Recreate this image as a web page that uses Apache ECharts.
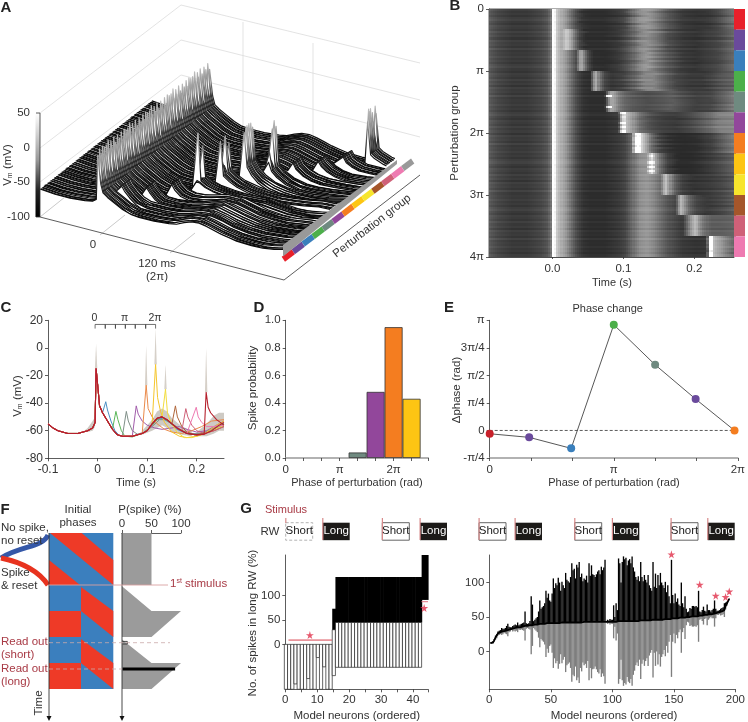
<!DOCTYPE html>
<html><head><meta charset="utf-8">
<style>html,body{margin:0;padding:0;background:#fff}#c{width:748px;height:722px}</style>
<script src="https://cdn.jsdelivr.net/npm/echarts@6/dist/echarts.min.js"></script>
</head><body><div id="c"></div>
<script>
// ---------- DATA ----------
const groupColors = ['#e8202a','#6a4a9c','#3a7fbc','#4caf4a','#6f8a80','#92479b','#f47d20','#fdc513','#f7e52c','#a5562a','#cf6078','#ee7ab1'];
const stripEndColor = '#999999';
const lineColors  = ['#b5202c','#4a8fc4','#5cb85a','#7f8f88','#a25cab','#ea8a4a','#f5c62c','#f2dd3c','#b0663a','#cf6078','#ee7ab1','#b5202c'];
// mean membrane potential, [s, mV]
const baseTrace = [[-0.1,-55],[-0.09,-58],[-0.08,-60],[-0.06,-62],[-0.04,-62],[-0.02,-60],[-0.01,-58],[-0.005,-54],[-0.003,-15],[0.001,-30],[0.004,-42],[0.01,-47],[0.02,-53],[0.03,-59],[0.04,-63],[0.05,-64],[0.07,-64],[0.09,-62],[0.1,-60],[0.11,-55],[0.12,-51],[0.13,-50],[0.14,-52],[0.15,-55],[0.16,-58],[0.17,-60],[0.18,-62],[0.2,-63],[0.215,-62.5],[0.23,-60],[0.245,-56],[0.255,-54]];
const perturbTimes = [0,0.0165,0.037,0.058,0.078,0.098,0.117,0.137,0.157,0.178,0.199,0.219];
const postTraces = [
 [],
 [[0.0165,-39],[0.02,-45],[0.027,-53],[0.035,-60],[0.045,-64],[0.07,-64],[0.09,-62],[0.105,-58],[0.12,-52],[0.13,-51],[0.145,-54],[0.16,-59],[0.18,-62],[0.2,-63],[0.23,-60],[0.255,-55]],
 [[0.037,-46],[0.041,-52],[0.048,-60],[0.055,-64],[0.07,-64.5],[0.09,-62],[0.105,-58],[0.12,-52],[0.13,-50],[0.145,-54],[0.16,-58],[0.18,-62],[0.2,-63],[0.23,-60],[0.255,-55]],
 [[0.058,-46],[0.062,-53],[0.07,-60],[0.08,-62.5],[0.095,-61],[0.11,-57],[0.125,-52],[0.14,-52],[0.155,-56],[0.17,-60],[0.19,-62],[0.21,-62],[0.235,-58],[0.255,-56]],
 [[0.078,-42],[0.082,-48],[0.09,-53],[0.1,-56],[0.115,-58],[0.13,-59],[0.15,-58],[0.165,-57],[0.18,-59],[0.2,-61],[0.22,-60],[0.24,-56],[0.255,-53]],
 [[0.098,-27],[0.102,-44],[0.11,-50],[0.12,-55],[0.135,-59],[0.15,-61],[0.17,-62],[0.19,-60],[0.21,-57],[0.23,-53],[0.255,-52]],
 [[0.117,-12],[0.121,-36],[0.127,-46],[0.135,-54],[0.15,-61],[0.165,-64],[0.18,-65],[0.2,-64],[0.22,-61],[0.24,-56],[0.255,-53]],
 [[0.137,-30],[0.141,-47],[0.148,-54],[0.16,-61],[0.175,-65],[0.19,-65],[0.21,-63],[0.23,-60],[0.255,-56]],
 [[0.157,-42],[0.161,-50],[0.17,-57],[0.18,-61],[0.195,-63],[0.215,-62],[0.235,-60],[0.255,-57]],
 [[0.178,-44],[0.182,-50],[0.19,-56],[0.2,-60],[0.215,-62],[0.235,-60],[0.255,-57]],
 [[0.199,-43],[0.203,-50],[0.21,-54],[0.22,-57],[0.235,-57],[0.255,-56]],
 [[0.219,-32],[0.223,-43],[0.228,-47],[0.24,-52],[0.255,-56]]
];
// single-trial readings used by panels A and B
const spikeTops  = [12,-14,18,-4,8,20,-22,14,2,16,-10,22,6,-18,15,10,-6,19,-26,11,4,17,-12];
const rowOffsets = [1.4,-0.8,0.3,-1.6,0.9,2.1,-0.4,-1.9,1.1,0.2,-1.2,1.8,-0.6,0.7,-2.2,1.5,-0.2,0.5,-1.4,2.4,-1,0.1,-0.5];
const rowShifts  = [0.002,-0.003,0.001,0.004,-0.002,0,-0.004,0.003,-0.001,0.002,-0.003,0.005,0,-0.002];
const trialSpikes = [[],[],[],[],[0,0,1,0,0,0,0,1,0,0],[1,0,1,0,0,1,0,1,0,1],[1,1,1,1,1,1,0,1,1,1],[0,1,0,0,1,0,1,0,1,0],[],[],[],[1,1,1,1,1,1,1,1,1,1]];
const grayStops = [[-66,40],[-64,45],[-60,70],[-55,108],[-50,153],[-45,181],[-35,224],[-25,255]];
// panel C shading: [s, lower, upper]
const cBands = [
 [[-0.03,-61,-61],[-0.02,-61,-58],[-0.01,-60,-53],[-0.005,-57,-50]],
 [[0.09,-63,-60],[0.11,-60,-52],[0.12,-58,-46],[0.13,-56,-44],[0.14,-58,-46],[0.15,-61,-51],[0.17,-63,-57],[0.19,-64,-60]],
 [[0.2,-64,-61],[0.22,-64,-55],[0.235,-62,-49],[0.245,-60,-47],[0.255,-60,-47]]
];
const cSpikeCaps = [[-0.003,-15,3],[0.098,-27,2],[0.117,-12,14],[0.137,-30,-12],[0.219,-32,0]];
const cPhaseBracket = [[-0.005,14],[-0.005,17],[0.0155,17],[0.0155,14],[0.0155,17],[0.036,17],[0.036,14],[0.036,17],[0.056,17],[0.056,14],[0.056,17],[0.076,17],[0.076,14],[0.076,17],[0.097,17],[0.097,14],[0.097,17],[0.117,17],[0.117,14]];
// panel D
const spikeProbPhase = [4,5,6,7];
const spikeProb = [0.04,0.48,0.95,0.43];
const spikeProbColors = ['#6f8a80','#92479b','#f47d20','#fdc513'];
// panel E (x in units of pi/3, y in units of pi/4)
const phaseX = [0,0.955,1.97,3,4,4.98,5.92];
const phaseDelta = [-0.12,-0.25,-0.65,3.84,2.385,1.14,0];
const phaseColors = ['#c8202a','#6a4a9c','#3a7fbc','#4caf4a','#6f8a80','#6a4a9c','#f47d20'];
// panel F (percent, time unit)
const pSpikeShapes = [
 [[0,0],[50,0],[50,2],[0,2]],
 [[0,2.05],[50,3],[100,3],[50,4],[0,4]],
 [[0,4.1],[50,5],[100,5],[50,6],[0,6]]
];
// panel G, 45 neurons
const g1Base = [0,0,0,0,0,0,0,0,0,0,0,0,0,0,0,30,45,45,45,45,45,45,45,45,45,45,45,45,45,45,45,45,45,45,45,45,45,45,45,45,45,45,45,91,91];
const g1Top  = [0,0,0,0,0,0,0,0,0,0,0,0,0,0,0,73,138,138,138,138,138,138,138,138,138,138,138,138,138,138,138,138,138,138,138,138,138,138,138,138,138,138,138,183,183];
const g1Bot  = [-92,-92,-92,-81,-92,-92,-92,-70,-92,-92,-27,-92,-46,-92,-92,-64,-47,-47,-47,-47,-47,-47,-47,-47,-47,-47,-47,-47,-47,-47,-47,-47,-47,-47,-47,-47,-47,-47,-47,-47,-47,-47,-47,91,91];
// panel G, 195 neurons
const g2Base = [12,12,13,16,20,22,26,27,28,29,29,30,30,31,31,32,32,33,33,34,34,34,35,35,35,36,36,36,37,37,37,37,38,38,38,39,39,39,39,39,40,40,40,40,40,40,41,41,41,41,41,41,41,41,41,41,41,42,42,42,42,42,42,42,42,42,42,42,42,42,42,42,42,42,42,43,43,43,43,43,43,43,43,43,43,43,43,43,43,43,43,43,43,43,43,43,43,43,43,43,43,43,43,43,44,44,44,44,44,44,44,44,44,44,44,44,44,44,44,44,44,45,45,45,45,45,45,45,45,45,45,45,46,46,46,46,46,46,46,46,46,47,47,47,47,47,47,48,48,48,48,48,48,48,49,49,49,49,49,50,50,50,50,50,51,51,51,51,51,51,52,52,52,52,53,53,53,53,54,54,54,55,55,55,56,56,57,57,58,59,60,66,69,73,76];
const g2Top  = [13,13,15,18,23,25,29,30,31,34,33,33,34,37,40,36,35,35,37,38,39,38,42,38,39,40,41,42,58,41,40,41,44,80,68,44,46,48,50,58,74,62,64,66,70,88,78,84,74,72,84,106,92,99,96,107,100,88,101,96,92,114,104,102,100,108,128,118,120,106,126,122,130,108,113,102,106,104,110,100,128,110,125,112,111,108,112,116,118,112,123,118,122,133,44,46,45,47,46,46,67,50,70,60,135,128,100,130,138,134,136,125,132,134,128,138,122,116,108,104,109,102,130,108,102,111,104,100,111,96,92,88,130,94,113,92,111,96,114,100,96,92,101,86,96,80,70,133,82,70,84,72,77,68,66,100,70,64,80,62,57,58,63,62,66,66,65,66,64,88,58,57,60,65,59,58,68,60,60,58,60,62,74,62,59,59,60,62,63,64,70,71,72,74,77];
const g1Stars = [[7.7,19],[43.5,74.5]];
const g2Stars = [[148,141],[171,97],[184,81],[192,79],[195,87]];

// ---------- BUILD ----------
const F = '"Liberation Sans",Arial,sans-serif', TC = '#333';
const groupTraces = postTraces.map((post,i)=> i===0 ? baseTrace.slice() : baseTrace.filter(p=>p[0]<perturbTimes[i]-0.002).concat(post));
function vAt(tr,t){
  if(t<=tr[0][0]) return tr[0][1];
  for(let i=1;i<tr.length;i++) if(t<=tr[i][0]){const a=tr[i-1],b=tr[i];return a[1]+(b[1]-a[1])*(t-a[0])/(b[0]-a[0]);}
  return tr[tr.length-1][1];
}
const N_ROWS=120;
function trial(r){
  const g=Math.floor(r/10),k=r%10,off=rowOffsets[r%rowOffsets.length],dt=rowShifts[r%rowShifts.length],tp=perturbTimes[g];
  return groupTraces[g].map(p=>{
    let t=p[0],v=p[1]+off;
    if(Math.abs(t+0.003)<1e-6) v=spikeTops[r%spikeTops.length];
    else if(g>0&&Math.abs(t-tp)<1e-6){const s=trialSpikes[g][k]; if(trialSpikes[g].length) v= s? spikeTops[(r*3)%spikeTops.length] : p[1]-6;}
    else if(t>tp+0.025&&t>0.03) t=t+dt;
    return [t,v];
  });
}
const trials=[];for(let r=0;r<N_ROWS;r++)trials.push(trial(r));

// panel A projection (ms, trial index, mV) -> page scale
const projA=(t,r,v)=>{const px=100+750*t;return [px+r*0.94, 232.5+0.258*(px-100)-r*0.7417-(v+100)*0.693];};
function traceA(r){
  const damp=0.7*rowOffsets[r%rowOffsets.length];
  const tr=trials[r].filter(p=>p[0]>=-0.08&&p[0]<=0.244);
  tr.unshift([-0.08,vAt(trials[r],-0.08)]);tr.push([0.244,vAt(trials[r],0.244)]);
  return tr.map(p=>[p[0],p[1]-damp]);
}
const aData=[];for(let r=N_ROWS-1;r>=0;r--)aData.push(r);

// panel B cells
function grayOf(v){
  const s=grayStops;
  if(v<=s[0][0])return s[0][1];
  for(let i=1;i<s.length;i++)if(v<=s[i][0]){return s[i-1][1]+(s[i][1]-s[i-1][1])*(v-s[i-1][0])/(s[i][0]-s[i-1][0]);}
  return 255;
}
const bCells=[];const BDT=0.0029,BMIN=-0.0895,BMAX=0.256;
for(let r=0;r<N_ROWS;r++){
  const damp=0.45*rowOffsets[r%rowOffsets.length];
  for(let c=0;c*BDT+BMIN<BMAX;c++){
    const t=BMIN+c*BDT;
    bCells.push([t,r/10,vAt(trials[r],t+BDT/2-0.004)-damp]);
  }
}

// ---------- LAYOUT ----------
const grids=[],xAxes=[],yAxes=[],series=[];
const baseAx=(o)=>Object.assign({type:'value',splitLine:{show:false},
  axisLine:{show:true,onZero:false,lineStyle:{color:'#333',width:0.8}},
  axisTick:{show:true,length:3,lineStyle:{color:'#333',width:0.8}},
  axisLabel:{color:TC,fontSize:11.5,fontFamily:F,margin:4,hideOverlap:false}},o);
function addGrid(left,top,w,h,xa,ya){grids.push({left,top,width:w,height:h,containLabel:false});const i=grids.length-1;
  xAxes.push(baseAx(Object.assign({gridIndex:i},xa)));yAxes.push(baseAx(Object.assign({gridIndex:i},ya)));return i;}

// overlay for panel A
const gA=addGrid(0,0,748,722,{min:0,max:748,show:false},{min:0,max:722,inverse:true,show:false});
series.push({type:'custom',xAxisIndex:gA,yAxisIndex:gA,silent:true,animation:false,progressive:0,data:aData,clip:false,z:3,
  renderItem(p,api){
    const r=api.value(0),tr=traceA(r);
    const pts=tr.map(q=>api.coord(projA(q[0],r,q[1])));
    const a=api.coord(projA(tr[0][0],r,-100)),b=api.coord(projA(tr[tr.length-1][0],r,-100));
    const g0=projA(0,r,-100),g1=[g0[0]+25.2,g0[1]-97.5];
    return {type:'group',children:[
      {type:'polygon',shape:{points:pts.concat([b,a])},style:{fill:'#fff',stroke:null}},
      {type:'polyline',shape:{points:pts},style:{fill:null,lineWidth:1.2,lineJoin:'round',stroke:new echarts.graphic.LinearGradient(g0[0],g0[1],g1[0],g1[1],[{offset:0,color:'#000'},{offset:0.3,color:'#0a0a0a'},{offset:0.45,color:'#2c2c2c'},{offset:0.62,color:'#8c8c8c'},{offset:1,color:'#f4f4f4'}],true)}}
    ]};
  }});
// panel A: end plate and colour strip
const stripColors=groupColors.concat([stripEndColor]);
series.push({type:'custom',xAxisIndex:gA,yAxisIndex:gA,silent:true,animation:false,data:stripColors.map((c,i)=>[i]),clip:false,z:4,
  renderItem(p,api){
    const i=api.value(0);
    const sx=281.7+9.95*i,sy=256.7-7.55*i;
    return {type:'polygon',shape:{points:[[sx,sy],[sx+9.95,sy-7.55],[sx+13.2,sy-2.5],[sx+3.3,sy+5]].map(q=>api.coord(q))},style:{fill:stripColors[i]}};
  }});
series.push({type:'custom',xAxisIndex:gA,yAxisIndex:gA,silent:true,animation:false,data:[[0]],clip:false,z:4,
  renderItem(p,api){
    const pl=[[283,245],[397,160],[397,164],[283,256.5]].map(q=>api.coord(q));
    return {type:'polygon',shape:{points:pl},style:{fill:'#999'}};
  }});

// panel B
const gB=addGrid(489,9,245,248,{min:BMIN,max:BMAX,position:'bottom',axisLabel:{color:TC,fontSize:11.5,fontFamily:F,margin:6,customValues:[0,0.1,0.2],formatter:v=>v.toFixed(1)},axisTick:{show:true,length:2,customValues:[0,0.1,0.2],lineStyle:{color:'#333',width:.8}}},
  {min:0,max:12,interval:3,inverse:true,axisLabel:{color:TC,fontSize:11.5,fontFamily:F,margin:5,formatter:v=>({0:'0',3:'π',6:'2π',9:'3π',12:'4π'}[v])}});
grids[gB].show=true;grids[gB].borderColor='#333';grids[gB].borderWidth=0.8;
series.push({type:'custom',xAxisIndex:gB,yAxisIndex:gB,silent:true,animation:false,progressive:0,large:false,data:bCells,z:2,
  renderItem(p,api){
    const a=api.coord([api.value(0),api.value(1)]),b=api.coord([api.value(0)+BDT,api.value(1)+0.1]);
    const g=Math.round(grayOf(api.value(2)));
    return {type:'rect',shape:{x:Math.floor(a[0]),y:Math.floor(a[1]),width:Math.ceil(b[0])-Math.floor(a[0]),height:Math.ceil(b[1])-Math.floor(a[1])},style:{fill:`rgb(${g},${g},${g})`}};
  }});
// panel B colour strip
const gS=addGrid(734,9,11,248,{min:0,max:1,show:false},{type:'category',inverse:true,show:false,data:groupColors.map((c,i)=>i)});
series.push({type:'bar',xAxisIndex:gS,yAxisIndex:gS,silent:true,animation:false,barCategoryGap:0,barWidth:'100%',data:groupColors.map(c=>({value:1,itemStyle:{color:c}}))});

// panel C
const gC=addGrid(48,320.3,176,138,{min:-0.1,max:0.255,axisLabel:{color:TC,fontSize:12,fontFamily:F,margin:5,customValues:[-0.1,0,0.1,0.2],formatter:v=>v===0?'0':v.toFixed(1)},axisTick:{show:true,length:3,customValues:[-0.1,0,0.1,0.2],lineStyle:{color:'#333',width:.8}}},
  {min:-80,max:20,interval:20,axisLabel:{color:TC,fontSize:12,fontFamily:F,margin:5}});
series.push({type:'custom',xAxisIndex:gC,yAxisIndex:gC,silent:true,animation:false,data:cBands.map((b,i)=>[i]),z:2,
  renderItem(p,api){
    const b=cBands[api.value(0)];
    const pts=b.map(q=>api.coord([q[0],q[2]])).concat(b.slice().reverse().map(q=>api.coord([q[0],q[1]])));
    return {type:'polygon',shape:{points:pts},style:{fill:'#bdb8b0',opacity:0.75}};
  }});
series.push({type:'custom',xAxisIndex:gC,yAxisIndex:gC,silent:true,animation:false,data:cSpikeCaps,z:2,
  renderItem(p,api){
    const a=api.coord([api.value(0),api.value(1)]),b=api.coord([api.value(0),api.value(2)]),w=1.2;
    return {type:'polygon',shape:{points:[[a[0]-w,a[1]],[a[0]+w,a[1]],b]},style:{fill:'#d6d0c8'}};
  }});
[1,2,3,4,5,6,7,8,9,10,11,0].forEach(i=>{
  series.push({type:'line',xAxisIndex:gC,yAxisIndex:gC,silent:true,animation:false,showSymbol:false,symbol:'none',z:3,
    lineStyle:{color:lineColors[i],width:i===0||i===11?1.1:1},data:groupTraces[i]});
});
series.push({type:'line',xAxisIndex:gC,yAxisIndex:gC,silent:true,animation:false,symbol:'none',z:3,clip:false,lineStyle:{color:'#333',width:0.7},data:cPhaseBracket});

// panel D
const gD=addGrid(285.7,320.3,142.6,137.7,{min:0,max:7.93,
  axisLine:{show:true,onZero:false,lineStyle:{color:'#999',width:1.6}},
  axisTick:{show:true,length:3,customValues:[0,1,2,3,4,5,6,7,7.93],lineStyle:{color:'#333',width:.8}},
  axisLabel:{color:TC,fontSize:11.5,fontFamily:F,margin:6,customValues:[0,3,6],formatter:v=>({0:'0',3:'π',6:'2π'}[v])}},
  {min:0,max:1,interval:0.2,axisLabel:{color:TC,fontSize:11.5,fontFamily:F,margin:5,formatter:v=>v.toFixed(1)}});
series.push({type:'bar',xAxisIndex:gD,yAxisIndex:gD,silent:true,animation:false,barWidth:18,
  data:spikeProbPhase.map((x,i)=>({value:[x,spikeProb[i]],itemStyle:{color:spikeProbColors[i],borderColor:'#333',borderWidth:0.8}}))});

// panel E
const gE=addGrid(489.7,320.3,249.3,137.7,{min:0,max:6,interval:1,
  axisLine:{show:true,onZero:false,lineStyle:{color:'#999',width:1.6}},
  axisLabel:{color:TC,fontSize:11.5,fontFamily:F,margin:6,formatter:v=>({0:'0',3:'π',6:'2π'}[v]||'')}},
  {min:-1,max:4,interval:1,axisLabel:{color:TC,fontSize:11.5,fontFamily:F,margin:5,formatter:v=>({'-1':'-π/4',0:'0',1:'π/4',2:'π/2',3:'3π/4',4:'π'}[v])}});
series.push({type:'line',xAxisIndex:gE,yAxisIndex:gE,silent:true,animation:false,symbol:'none',lineStyle:{color:'#333',type:[3,2],width:0.8},data:[[0,0],[6,0]]});
series.push({type:'line',xAxisIndex:gE,yAxisIndex:gE,silent:true,animation:false,clip:false,symbol:'circle',symbolSize:8,showAllSymbol:true,z:4,
  lineStyle:{color:'#444',width:0.9},data:phaseX.map((x,i)=>({value:[x,phaseDelta[i]],itemStyle:{color:phaseColors[i]}}))});

// panel F probability
const gF=addGrid(122,533,59,156,{min:0,max:100,position:'top',interval:50,axisLabel:{color:TC,fontSize:11.5,fontFamily:F,margin:3}},{min:0,max:6,inverse:true,show:false});
series.push({type:'custom',xAxisIndex:gF,yAxisIndex:gF,silent:true,animation:false,clip:false,data:pSpikeShapes.map((s,i)=>[i]),z:2,
  renderItem(p,api){return {type:'polygon',shape:{points:pSpikeShapes[api.value(0)].map(q=>api.coord(q))},style:{fill:'#9b9b9b'}};}});
series.push({type:'line',xAxisIndex:gF,yAxisIndex:gF,silent:true,animation:false,symbol:'none',clip:false,z:3,lineStyle:{color:'#000',width:3},data:[[1,5.23],[90,5.23]]});
series.push({type:'line',xAxisIndex:gF,yAxisIndex:gF,silent:true,animation:false,symbol:'none',clip:false,z:3,lineStyle:{color:'#222',width:0.8},data:[[1,4.17],[9,4.17],[9,4.27],[1,4.27]]});

// panel G left
const G1idx=g1Base.map((b,i)=>[i+1-0.8,b,g1Top[i],g1Bot[i]]);
const gG1=addGrid(285.3,555,142.7,134.3,{min:0,max:44.7,axisLabel:{color:TC,fontSize:11.5,fontFamily:F,margin:5,customValues:[0,10,20,30,40]},axisTick:{show:true,length:3,customValues:[0,5,10,15,20,25,30,35,40,44.7],lineStyle:{color:'#333',width:.8}}},
  {min:-92,max:183,axisLine:{show:true,onZero:false,lineStyle:{color:'#333',width:.8}},axisTick:{show:true,length:3,customValues:[0,50,100],lineStyle:{color:'#333',width:.8}},axisLabel:{color:TC,fontSize:11.5,fontFamily:F,margin:5,customValues:[0,50,100]}});
series.push({type:'custom',xAxisIndex:gG1,yAxisIndex:gG1,silent:true,animation:false,data:G1idx,z:2,
  renderItem(p,api){
    const x=api.value(0),b=api.value(1),t=api.value(2),d=api.value(3);
    const ch=[],w=1;
    const P=(xx,yy)=>api.coord([xx,yy]);
    if(d<b){const a=P(x-w/2,b),c=P(x+w/2,d);ch.push({type:'rect',shape:{x:a[0],y:a[1],width:c[0]-a[0],height:c[1]-a[1]},style:{fill:'#fff',stroke:'#222',lineWidth:0.7}});}
    if(t>b){const a=P(x-w/2,t),c=P(x+w/2,b);ch.push({type:'rect',shape:{x:a[0],y:a[1],width:c[0]-a[0]+0.6,height:c[1]-a[1]},style:{fill:'#000'}});}
    return {type:'group',children:ch};
  }});
series.push({type:'line',xAxisIndex:gG1,yAxisIndex:gG1,silent:true,animation:false,symbol:'none',lineStyle:{color:'#d9434e',width:1},data:[[1,8.8],[14.6,8.8]]});
series.push({type:'line',xAxisIndex:gG1,yAxisIndex:gG1,silent:true,animation:false,symbol:'none',lineStyle:{color:'#e8909a',width:1.2},data:[[42.7,87.5],[44.7,87.5]]});
const starPath='path://M50 0L61 35L98 35L68 57L79 91L50 70L21 91L32 57L2 35L39 35Z';
series.push({type:'scatter',xAxisIndex:gG1,yAxisIndex:gG1,silent:true,animation:false,clip:false,symbol:starPath,symbolSize:8,itemStyle:{color:'#e0304a'},data:g1Stars,z:5});

// panel G right
const gG2=addGrid(489.3,555,249.4,134.3,{min:0,max:200,interval:50,axisLabel:{color:TC,fontSize:11.5,fontFamily:F,margin:5}},
  {min:-55,max:140,axisTick:{show:true,length:3,customValues:[0,50,100],lineStyle:{color:'#333',width:.8}},axisLabel:{color:TC,fontSize:11.5,fontFamily:F,margin:5,customValues:[0,50,100]}});
series.push({type:'custom',xAxisIndex:gG2,yAxisIndex:gG2,silent:true,animation:false,progressive:0,
  // short-window bar mirrors the long-window bar around the neuron's base
  data:g2Base.map((b,i)=>[i+1,b,g2Top[i],2*b-g2Top[i]]),z:2,
  renderItem(p,api){
    const n=api.value(0),b=api.value(1),t=api.value(2),d=Math.max(api.value(3),-55);
    const A=api.coord([n-0.5,b]),D=api.coord([n+0.6,d]),T=api.coord([n-0.5,t]),E=api.coord([n+0.6,b]);
    return {type:'group',children:[
      {type:'rect',shape:{x:A[0],y:A[1],width:D[0]-A[0],height:D[1]-A[1]},style:{fill:'#7e7e7e'}},
      {type:'rect',shape:{x:T[0],y:T[1],width:E[0]-T[0],height:E[1]-T[1]},style:{fill:'#000'}}
    ]};
  }});
series.push({type:'line',xAxisIndex:gG2,yAxisIndex:gG2,silent:true,animation:false,symbol:'none',z:3,lineStyle:{color:'#000',width:1.8},data:g2Base.map((b,i)=>[i+1,b])});
series.push({type:'scatter',xAxisIndex:gG2,yAxisIndex:gG2,silent:true,animation:false,clip:false,symbol:starPath,symbolSize:8,itemStyle:{color:'#e0304a'},data:g2Stars,z:5});

// ---------- ANNOTATIONS ----------
const gfx=[];
const T=(x,y,t,o={})=>gfx.push({type:'text',x,y,z:100,rotation:o.rot||0,silent:true,style:{text:t,fill:o.color||TC,font:`${o.bold?'bold ':''}${o.size||11}px ${F}`,align:o.align||'center',verticalAlign:'middle',rich:o.rich}});
const L=(pts,c,w,z,dash)=>gfx.push({type:'polyline',silent:true,z:z,shape:{points:pts},style:{fill:null,stroke:c,lineWidth:w,lineDash:dash}});
const PG=(pts,c,z)=>gfx.push({type:'polygon',silent:true,z:z,shape:{points:pts},style:{fill:c}});
const RC=(x,y,w,h,s,z)=>gfx.push({type:'rect',silent:true,z:z,shape:{x,y,width:w,height:h},style:s});
[['A',6,8],['B',455,6],['C',6,308],['D',259,308],['E',449,308],['F',5,510],['G',246,509]].forEach(a=>T(a[1],a[2],a[0],{bold:true,size:15,color:'#222'}));

// panel A frame
const wall='#dcdcdc';
[[[40,113],[181,5],[420,63]],[[40,148],[181,40],[420,100]],[[40,182],[181,75],[420,137]]].forEach(p=>L(p,wall,0.8,0));
L([[243,22],[243,135]],wall,0.8,0);L([[313,43],[313,160]],wall,0.8,0);
L([[40,217],[65,197]],'#bbb',0.8,10);L([[100,235],[125,215]],'#bbb',0.8,10);L([[170,253],[195,233]],'#bbb',0.8,10);
L([[40,217],[284,280],[420,175]],'#333',0.8,10);
RC(35.5,113,4.5,104,{fill:new echarts.graphic.LinearGradient(0,0,0,1,[{offset:0,color:'#fff'},{offset:0.45,color:'#999'},{offset:0.75,color:'#222'},{offset:1,color:'#000'}])},10);
L([[40,113],[40,217]],'#333',0.8,10);L([[36,113],[40,113]],'#333',0.8,10);L([[36,217],[40,217]],'#333',0.8,10);
T(30,113,'50',{align:'right',size:11.5});T(30,147.5,'0',{align:'right',size:11.5});T(30,182,'-50',{align:'right',size:11.5});T(30,217,'-100',{align:'right',size:11.5});
const vmRich={s:{fontSize:7,fontFamily:F,fill:TC,verticalAlign:'bottom',padding:[4,0,0,0]}};
T(8,165,'V{s|m} (mV)',{rot:Math.PI/2,size:11.5,rich:vmRich});
T(93,245,'0',{size:11.5});T(157,264,'120 ms',{size:11.5});T(157,277,'(2π)',{size:11.5});
T(372,226,'Perturbation group',{rot:0.66,size:11.5});

T(612,283,'Time (s)');T(455,133,'Perturbation group',{rot:Math.PI/2,size:11.5});
T(136,483,'Time (s)');T(18,396,'V{s|m} (mV)',{rot:Math.PI/2,size:11.5,rich:vmRich});
T(94.5,318,'0',{size:10.5});T(124.5,318,'π',{size:10.5});T(155,318,'2π',{size:10.5});
T(253,388,'Spike probability',{rot:Math.PI/2,size:11.5});T(357,483,'Phase of perturbation (rad)',{size:11});
T(457,390,'Δphase (rad)',{rot:Math.PI/2,size:11.5});T(614,483,'Phase of perturbation (rad)',{size:11});T(607.7,309,'Phase change',{size:11});

// panel F schematic
const R='#ee3a27',Bl='#3b7fbe',Br='#a83a45';
RC(49,533,64.3,52,{fill:Bl},2);
PG([[50,533],[81.7,533],[113.3,560],[113.3,585]],R,2);PG([[49,560],[49,585],[80,585]],R,2);
[0,1,2,3].forEach(i=>{const y=585+i*26;RC(49,y,32.3,26,{fill:i%2?R:Bl},2);RC(81,y,32.3,26,{fill:Bl},2);});
PG([[81,587],[113.3,611],[113.3,637],[81,611]],R,2);PG([[81,639],[113.3,663],[113.3,689],[81,663]],R,2);
gfx.push({type:'bezierCurve',silent:true,z:5,shape:{x1:48,y1:535,cpx1:42,cpx2:22,cpy1:548,cpy2:545,x2:1,y2:558},style:{fill:null,stroke:'#3558a8',lineWidth:5}});
gfx.push({type:'bezierCurve',silent:true,z:5,shape:{x1:1,y1:558,cpx1:20,cpx2:38,cpy1:562,cpy2:570,x2:48,y2:585},style:{fill:null,stroke:'#e8331f',lineWidth:5}});
L([[49,533],[49,718]],'#333',0.9,10);PG([[46.5,716],[51.5,716],[49,721]],'#111',10);
L([[122,533],[122,718]],'#333',0.9,10);PG([[119.5,716],[124.5,716],[122,721]],'#111',10);
L([[49,585],[168,585]],'#d9a0a0',0.9,10);
L([[49,642.7],[170,642.7]],'#c9a9a9',0.8,10,[4,3]);L([[49,669],[122,669]],'#c9a9a9',0.8,10,[4,3]);
const lt=(t,y)=>T(1,y,t,{align:'left',size:11.5});
lt('No spike,',528);lt('no reset',541);lt('Spike',573);lt('& reset',586);
T(1,642,'Read out',{align:'left',size:11.5,color:Br});T(1,655,'(short)',{align:'left',size:11.5,color:Br});
T(1,669,'Read out',{align:'left',size:11.5,color:Br});T(1,682,'(long)',{align:'left',size:11.5,color:Br});
T(78,510,'Initial',{size:11.5});T(78,523,'phases',{size:11.5});T(150,510,'P(spike) (%)',{size:11.5});
T(170,584,'1{u|st} stimulus',{align:'left',size:11.5,color:Br,rich:{u:{fontSize:7,fontFamily:F,fill:Br,verticalAlign:'top',padding:[0,0,4,0]}}});
T(39,703,'Time',{rot:Math.PI/2,size:11.5});

// panel G text and read-window boxes
T(286,510,'Stimulus',{size:11,color:Br});T(270,532,'RW',{size:11.5});
const box=(x,kind,dash)=>{
  const w=27,y=522.7,h=17.5;
  if(kind==='Long'){RC(x,y,w,h,{fill:'#1c1a18'},10);T(x+w/2,y+8.5,'Long',{color:'#fff',size:11.5});}
  else{RC(x,y,w,h,{fill:'#fff',stroke:dash?'#aaa':'#555',lineWidth:0.9,lineDash:dash?[3,2]:null},10);T(x+w/2,y+8.5,'Short',{color:'#222',size:11.5});}
  RC(x-0.5,518,1.2,5,{fill:'#d88a8a'},11);
  if(!dash)RC(x-0.5,523,1.2,17,{fill:'#d88a8a'},11);
};
box(285.7,'Short',true);box(322.7,'Long');box(382.3,'Short');box(420,'Long');
box(479,'Short');box(515,'Long');box(574.7,'Short');box(612.3,'Long');box(671,'Short');box(707.7,'Long');
T(253,623,'No. of spikes in long RW (%)',{rot:Math.PI/2,size:11.5});
T(356.7,716,'Model neurons (ordered)',{size:11.5});T(614,716,'Model neurons (ordered)',{size:11.5});

const chart=echarts.init(document.getElementById('c'),null,{renderer:'canvas'});
chart.setOption({animation:false,backgroundColor:'#fff',grid:grids,xAxis:xAxes,yAxis:yAxes,series,graphic:{elements:gfx},tooltip:{show:false}});
</script></body></html>
